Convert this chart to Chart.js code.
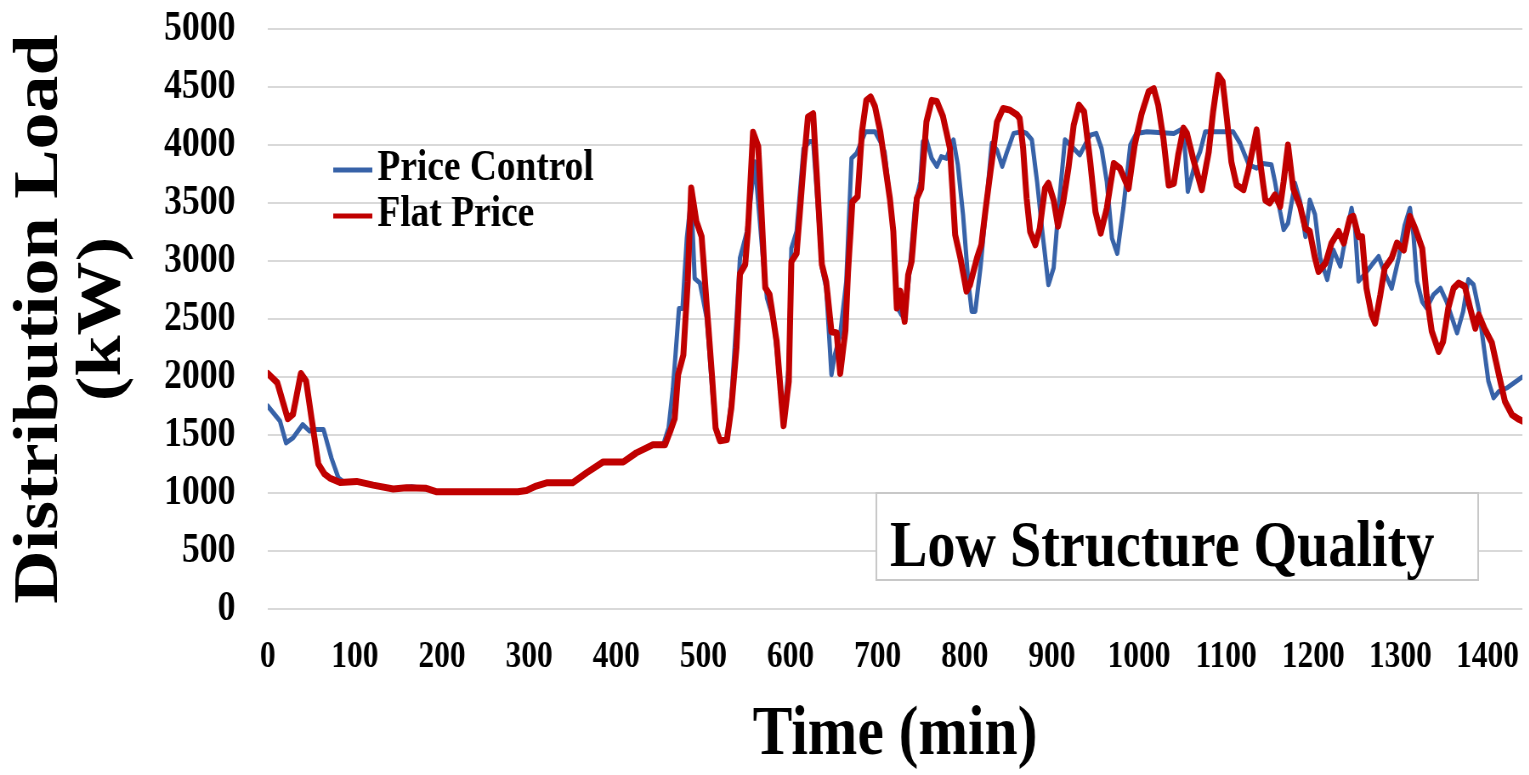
<!DOCTYPE html>
<html>
<head>
<meta charset="utf-8">
<script src="https://cdn.jsdelivr.net/npm/chart.js@4.4.0/dist/chart.umd.min.js"></script>
<style>
  html, body { margin: 0; padding: 0; background: #fff; overflow: hidden; }
  /* the source figure is horizontally squeezed, so draw wide and compress */
  #wrap { width: 1799px; height: 775px; transform: scaleX(0.85); transform-origin: 0 0; }
</style>
</head>
<body>
<div id="wrap"><canvas id="loadChart" width="1799" height="775"></canvas></div>
<script>
// [time (min), load (kW)]
var priceControl = [
  [0,1750],[14,1620],[21,1432],[29,1475],[40,1590],[48,1533],[56,1547],[64,1547],[73,1303],[81,1131],
  [88,1090],[102,1100],[121,1068],[144,1035],[165,1055],[182,1035],[194,1010],[287,1010],[297,1022],[308,1060],
  [320,1088],[350,1088],[366,1175],[385,1268],[408,1268],[423,1346],[442,1415],[454,1420],[460,1560],[465,1900],
  [470,2390],[472,2590],[476,2590],[481,3200],[486,3550],[490,2850],[496,2810],[504,2500],[510,1900],[514,1560],
  [519,1450],[527,1460],[532,1800],[538,2500],[542,3025],[550,3255],[559,3855],[569,2965],[573,2680],[581,2480],
  [592,1600],[598,2100],[601,3110],[607,3255],[615,3970],[622,4030],[626,4030],[632,3400],[636,2940],[641,2765],
  [647,2020],[651,2195],[657,2365],[664,2825],[670,3885],[676,3930],[686,4115],[697,4115],[703,4030],[708,3940],
  [718,3255],[723,2595],[727,2540],[731,2500],[737,2940],[743,3485],[749,3685],[752,4030],[756,4045],[762,3885],
  [768,3815],[773,3900],[779,3885],[787,4045],[792,3830],[798,3400],[804,2825],[808,2565],[812,2565],[818,2940],
  [825,3510],[831,4015],[837,3955],[843,3815],[848,3930],[856,4100],[866,4115],[871,4100],[877,4045],[883,3685],
  [889,3255],[896,2795],[902,2940],[907,3400],[915,4045],[923,3985],[932,3915],[944,4085],[951,4100],[957,3970],
  [963,3685],[969,3195],[975,3065],[982,3455],[990,4000],[997,4100],[1009,4115],[1040,4100],[1051,4145],[1056,3600],
  [1064,3830],[1070,3940],[1076,4115],[1108,4115],[1116,4015],[1126,3830],[1135,3800],[1142,3840],[1152,3830],[1156,3685],
  [1162,3425],[1166,3270],[1171,3325],[1179,3670],[1185,3510],[1191,3210],[1196,3525],[1202,3400],[1208,3025],[1216,2840],
  [1223,3095],[1231,2955],[1238,3240],[1244,3455],[1248,3280],[1252,2825],[1260,2895],[1267,2965],[1275,3040],[1282,2895],
  [1290,2765],[1298,3025],[1305,3310],[1311,3455],[1315,3225],[1319,2825],[1325,2650],[1330,2595],[1338,2710],[1346,2765],
  [1353,2650],[1365,2380],[1372,2565],[1378,2840],[1384,2795],[1390,2580],[1395,2305],[1401,1965],[1407,1820],[1413,1875],
  [1422,1905],[1436,1980],[1440,2000]
];

var flatPrice = [
  [0,2030],[11,1950],[23,1640],[29,1680],[38,2030],[44,1965],[58,1250],[65,1165],[71,1130],[83,1090],
  [102,1100],[121,1068],[144,1035],[159,1045],[182,1040],[194,1010],[287,1010],[297,1022],[308,1060],[320,1088],
  [350,1088],[366,1175],[385,1268],[408,1268],[423,1346],[442,1415],[456,1415],[462,1533],[467,1640],[471,2020],
  [477,2190],[482,2820],[486,3630],[492,3340],[498,3210],[504,2600],[510,2000],[514,1560],[519,1450],[527,1460],
  [532,1730],[538,2250],[542,2890],[548,2970],[551,3250],[557,4110],[563,3985],[571,2770],[576,2710],[584,2310],
  [592,1580],[598,1960],[601,2995],[607,3065],[615,3830],[620,4240],[626,4270],[636,2970],[641,2820],[647,2390],
  [653,2380],[657,2030],[663,2400],[666,2900],[671,3510],[677,3555],[682,4115],[687,4385],[692,4415],[697,4330],
  [703,4115],[708,3855],[714,3540],[718,3255],[722,2595],[726,2740],[731,2480],[735,2880],[739,2995],[745,3540],
  [750,3625],[756,4200],[762,4385],[768,4375],[775,4245],[783,3970],[789,3225],[795,3025],[802,2740],[806,2795],
  [814,3025],[819,3140],[825,3510],[833,3970],[837,4200],[844,4315],[852,4300],[860,4260],[863,4230],[867,3970],
  [871,3540],[875,3255],[881,3140],[886,3280],[892,3625],[896,3670],[902,3525],[907,3300],[913,3510],[919,3800],
  [925,4170],[931,4345],[937,4285],[944,3855],[950,3425],[956,3240],[963,3455],[971,3840],[978,3800],[988,3625],
  [995,4000],[1003,4270],[1011,4460],[1017,4485],[1022,4345],[1028,4055],[1034,3655],[1040,3670],[1045,3915],[1051,4145],
  [1055,4100],[1062,3885],[1072,3615],[1080,3940],[1085,4285],[1091,4600],[1096,4545],[1101,4215],[1106,3855],[1112,3655],
  [1120,3615],[1126,3800],[1135,4130],[1139,3855],[1145,3525],[1150,3500],[1156,3570],[1162,3470],[1166,3685],[1171,4000],
  [1177,3625],[1185,3470],[1191,3280],[1196,3255],[1202,3025],[1206,2910],[1214,2980],[1221,3155],[1229,3255],[1235,3155],
  [1242,3370],[1246,3385],[1252,3210],[1256,3210],[1261,2765],[1267,2535],[1271,2465],[1277,2710],[1282,2940],[1290,3025],
  [1296,3155],[1304,3095],[1311,3385],[1317,3280],[1325,3110],[1330,2710],[1336,2395],[1344,2220],[1349,2305],[1355,2595],
  [1361,2765],[1367,2810],[1374,2780],[1380,2595],[1386,2420],[1390,2535],[1397,2410],[1405,2295],[1413,2020],[1420,1790],
  [1428,1675],[1436,1635],[1440,1620]
];

var seriesNames = ['Price Control', 'Flat Price'];
var seriesColors = ['#3762a8', '#c00000'];
var xTicks = [0, 100, 200, 300, 400, 500, 600, 700, 800, 900, 1000, 1100, 1200, 1300, 1400];
var yTicks = [0, 500, 1000, 1500, 2000, 2500, 3000, 3500, 4000, 4500, 5000];
var boxText = 'Low Structure Quality';

Chart.defaults.font.family = '"Liberation Serif", "Times New Roman", serif';
Chart.defaults.font.weight = 'bold';
Chart.defaults.color = '#000';

function toPoints(arr) {
  return arr.map(function (p) { return { x: p[0], y: p[1] }; });
}
function asTicks(vals) {
  return vals.map(function (v) { return { value: v }; });
}

// legend + label box drawn on top of the plot
var overlay = {
  id: 'overlay',
  afterDatasetsDraw: function (chart) {
    var ctx = chart.ctx;
    ctx.save();
    chart.data.datasets.forEach(function (ds, i) {
      var y = 170 + i * 46;
      ctx.strokeStyle = ds.borderColor;
      ctx.lineWidth = 5;
      ctx.beginPath();
      ctx.moveTo(392, y);
      ctx.lineTo(438, y);
      ctx.stroke();
      ctx.fillStyle = '#000';
      ctx.font = 'bold 44px "Liberation Serif"';
      ctx.textAlign = 'left';
      ctx.textBaseline = 'middle';
      ctx.fillText(ds.label, 444, y - 1);
    });

    ctx.fillStyle = '#fff';
    ctx.fillRect(1031, 493, 708, 87);
    ctx.strokeStyle = '#c8c8c8';
    ctx.lineWidth = 2;
    ctx.strokeRect(1031, 493, 708, 87);
    ctx.fillStyle = '#000';
    ctx.font = 'bold 66px "Liberation Serif"';
    ctx.textBaseline = 'alphabetic';
    ctx.fillText(boxText, 1047, 566);
    ctx.restore();
  }
};

new Chart(document.getElementById('loadChart').getContext('2d'), {
  type: 'line',
  data: {
    datasets: [
      { label: seriesNames[0], data: toPoints(priceControl), borderColor: seriesColors[0], borderWidth: 5, order: 1 },
      { label: seriesNames[1], data: toPoints(flatPrice), borderColor: seriesColors[1], borderWidth: 7, order: 0 }
    ]
  },
  options: {
    responsive: false,
    animation: false,
    devicePixelRatio: 1,
    elements: { point: { radius: 0 }, line: { tension: 0, borderJoinStyle: 'round', borderCapStyle: 'round' } },
    layout: { padding: { left: 0, right: 8, top: 29, bottom: 0 } },
    plugins: { legend: { display: false }, tooltip: { enabled: false } },
    scales: {
      x: {
        type: 'linear',
        min: 0,
        max: 1440,
        afterBuildTicks: function (s) { s.ticks = asTicks(xTicks); },
        afterFit: function (s) { s.height = 166; s.paddingLeft = 0; s.paddingRight = 0; },
        ticks: { font: { size: 37, weight: 'bold' }, padding: 26, maxRotation: 0, autoSkip: false,
                 callback: function (v) { return String(v); } },
        grid: { display: false, drawTicks: false },
        border: { display: false },
        title: { display: true, text: 'Time (min)', font: { size: 70, weight: 'bold', lineHeight: 1.0 }, padding: { top: 0, bottom: 4 } }
      },
      y: {
        min: 0,
        max: 5000,
        afterBuildTicks: function (s) { s.ticks = asTicks(yTicks); },
        afterFit: function (s) { s.width = 315; s.paddingTop = 0; s.paddingBottom = 0; },
        ticks: { font: { size: 42, weight: 'bold' }, padding: 38, autoSkip: false,
                 callback: function (v) { return String(v); } },
        grid: { color: '#d9d9d9', lineWidth: 2, drawTicks: false },
        border: { display: false },
        title: { display: true, text: ['Distribution Load', '(kW)'], font: { size: 74, weight: 'bold', lineHeight: 1.0 }, padding: { top: 11, bottom: 0 } }
      }
    }
  },
  plugins: [overlay]
});
</script>
</body>
</html>
